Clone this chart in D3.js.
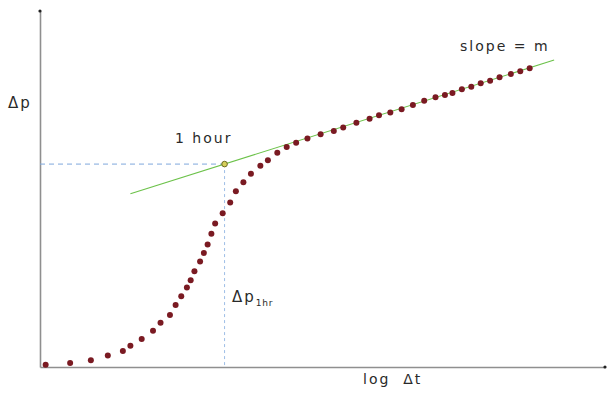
<!DOCTYPE html>
<html>
<head>
<meta charset="utf-8">
<script src="https://cdn.jsdelivr.net/npm/d3@7/dist/d3.min.js"></script>
<style>
  html, body { margin: 0; padding: 0; background: #fff; }
  svg { display: block; }
  text { font-family: "DejaVu Sans", Verdana, sans-serif; fill: #2a2a2a; white-space: pre; }
</style>
</head>
<body>
<svg id="chart" width="609" height="394"></svg>
<script>
// Pressure build-up test: log of shut-in time vs. pressure change
const logDt = [-0.95, -0.82, -0.71, -0.62, -0.54, -0.50, -0.44, -0.38, -0.34, -0.29,
               -0.26, -0.23, -0.20, -0.18, -0.16, -0.13, -0.11, -0.09, -0.07, -0.05,
               -0.01, 0.03, 0.06, 0.10, 0.14, 0.19, 0.23, 0.28, 0.33, 0.38,
               0.44, 0.51, 0.58, 0.63, 0.70, 0.77, 0.82, 0.88, 0.94, 1.00,
               1.06, 1.12, 1.17, 1.21, 1.26, 1.31, 1.36, 1.41, 1.46, 1.52,
               1.57, 1.62];
const deltaP = [6, 11, 19, 32, 45, 60, 79, 102, 124, 146,
                174, 199, 223, 244, 269, 296, 320, 344, 374, 403,
                432, 462, 494, 519, 543, 565, 581, 602, 618, 630,
                642, 654, 663, 673, 686, 697, 707, 715, 724, 736,
                748, 758, 764, 770, 780, 787, 797, 804, 814, 823,
                831, 839];

// Semilog straight line: value at 1 hour and slope per log cycle
const p1hr = 570;
const slopeM = 167;
const lineLogDt = [-0.50, 1.75];

const svg = d3.select("#chart");

const x = d3.scaleLinear().domain([-0.98, 2.02]).range([40, 605]);
const y = d3.scaleLinear().domain([0, 1000]).range([367, 11]);

// Axes without ticks
const axisColor = "#8f8f8f";
const gx = svg.append("g").attr("transform", `translate(0,${y(0)})`)
  .call(d3.axisBottom(x).tickValues([]).tickSizeOuter(0));
const gy = svg.append("g").attr("transform", `translate(${x(-0.98)},0)`)
  .call(d3.axisLeft(y).tickValues([]).tickSizeOuter(0));
[gx, gy].forEach(g => g.select(".domain").attr("stroke", axisColor).attr("stroke-width", 1.6));

// Axis end markers
svg.append("circle").attr("cx", x(-0.98)).attr("cy", y(1000)).attr("r", 1.6).attr("fill", "#222");
svg.append("circle").attr("cx", x(2.02)).attr("cy", y(0)).attr("r", 1.6).attr("fill", "#222");

// Guide lines to the 1-hour point
svg.append("line")
  .attr("x1", x(-0.98)).attr("x2", x(0))
  .attr("y1", y(p1hr)).attr("y2", y(p1hr))
  .attr("stroke", "#7fa8dc").attr("stroke-width", 1).attr("stroke-dasharray", "5,4");
svg.append("line")
  .attr("x1", x(0)).attr("x2", x(0))
  .attr("y1", y(p1hr)).attr("y2", y(0))
  .attr("stroke", "#9dbde6").attr("stroke-width", 1).attr("stroke-dasharray", "3,3");

// Straight-line fit
svg.append("line")
  .attr("x1", x(lineLogDt[0])).attr("y1", y(p1hr + slopeM * lineLogDt[0]))
  .attr("x2", x(lineLogDt[1])).attr("y2", y(p1hr + slopeM * lineLogDt[1]))
  .attr("stroke", "#6cc24a").attr("stroke-width", 1.1);

// Data points
svg.append("g").selectAll("circle")
  .data(logDt.map((v, i) => [v, deltaP[i]]))
  .join("circle")
  .attr("cx", d => x(d[0]))
  .attr("cy", d => y(d[1]))
  .attr("r", 3)
  .attr("fill", "#7a1a22");

// 1-hour point
svg.append("circle").attr("cx", x(0)).attr("cy", y(p1hr)).attr("r", 2.8)
  .attr("fill", "#d6cf5a").attr("stroke", "#6b6a22").attr("stroke-width", 1);

// Labels
const ls = "2px";
svg.append("text").attr("x", 8).attr("y", 108).attr("font-size", 15).attr("letter-spacing", ls).text("Δp");
svg.append("text").attr("x", 175).attr("y", 143).attr("font-size", 14).attr("letter-spacing", ls).text("1 hour");
svg.append("text").attr("x", 460).attr("y", 51).attr("font-size", 14).attr("letter-spacing", ls).text("slope = m");
svg.append("text").attr("x", 363).attr("y", 384).attr("font-size", 14).attr("letter-spacing", ls).text("log  Δt");
const sub = svg.append("text").attr("x", 232).attr("y", 302).attr("font-size", 15).attr("letter-spacing", ls);
sub.append("tspan").text("Δp");
sub.append("tspan").attr("font-size", 9).attr("dy", 4).attr("letter-spacing", "0.8px").text("1hr");
</script>
</body>
</html>
